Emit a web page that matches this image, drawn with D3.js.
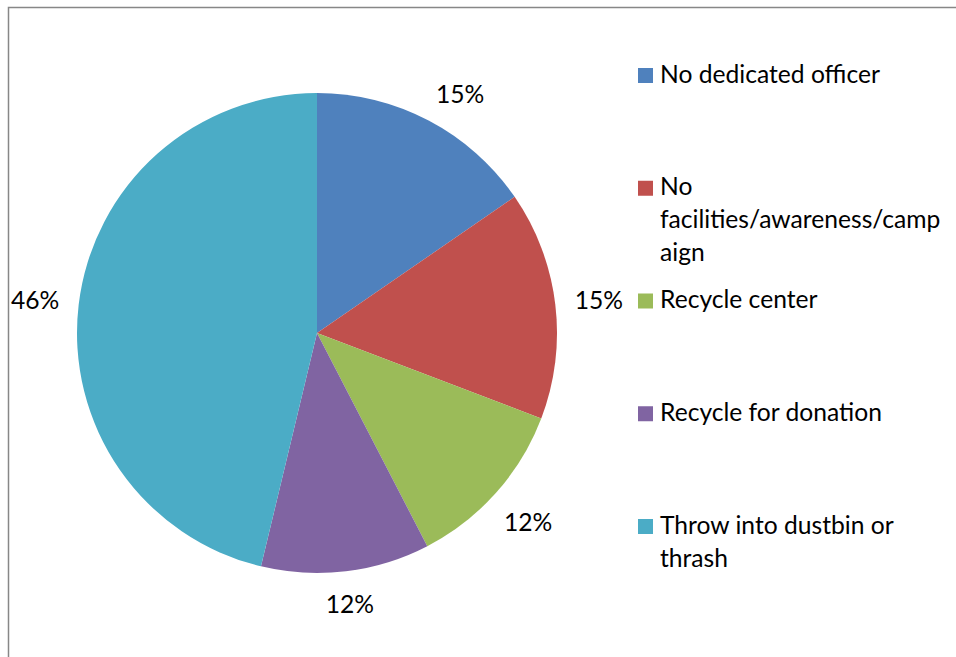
<!DOCTYPE html>
<html><head><meta charset="utf-8">
<script src="https://cdn.jsdelivr.net/npm/d3@7"></script>
<style>html,body{margin:0;padding:0;background:#fff;}svg{display:block;}</style>
</head><body>
<svg id="c" width="956" height="657"></svg>
<script>
const categories = ["No dedicated officer", "No facilities/awareness/campaign", "Recycle center", "Recycle for donation", "Throw into dustbin or thrash"];
const legendLines = [["No dedicated officer"], ["No", "facilities/awareness/camp", "aign"], ["Recycle center"], ["Recycle for donation"], ["Throw into dustbin or", "thrash"]];
const values = [15.4, 15.4, 11.6, 11.35, 46.25];
const pctLabels = ["15%", "15%", "12%", "12%", "46%"];
const colors = ["#4F81BD", "#C0504D", "#9BBB59", "#8064A2", "#4BACC6"];

const svg = d3.select("#c");
const font = "Lato, 'Open Sans', sans-serif";

// frame
svg.append("rect").attr("x", 8.5).attr("y", 7.5).attr("width", 1000).attr("height", 700)
  .attr("fill", "none").attr("stroke", "#878787").attr("stroke-width", 1.5);

// font size fit to reference width
const probe = svg.append("text").attr("font-family", font).attr("font-size", 20).text("No dedicated officer");
const w = probe.node().getComputedTextLength();
probe.remove();
const fs = 20 * 220 / w;

const cx = 317, cy = 333, r = 240;
const pie = d3.pie().sort(null).value(d => d)(values);
const arc = d3.arc().innerRadius(0).outerRadius(r);
const g = svg.append("g").attr("transform", `translate(${cx},${cy})`);
g.selectAll("path").data(pie).join("path")
  .attr("d", arc).attr("fill", (d, i) => colors[i]);

// percent labels outside-end, box-extent placement, kept below a top limit
const gap = 21, lw = 44, lh = 17, topLimit = 85;
g.selectAll("text.pct").data(pie).join("text")
  .attr("class", "pct")
  .attr("font-family", font).attr("font-size", fs).attr("fill", "#000")
  .attr("text-anchor", "middle").attr("dominant-baseline", "central")
  .attr("transform", d => {
    let a = (d.startAngle + d.endAngle) / 2;
    const ext = Math.abs(Math.sin(a)) * lw / 2 + Math.abs(Math.cos(a)) * lh / 2;
    const dist = r + gap + ext;
    let n = 0;
    while (cy - Math.cos(a) * dist - lh / 2 < topLimit && n < 200) {
      a += (a < Math.PI ? 0.005 : -0.005); n++;
    }
    return `translate(${Math.sin(a) * dist},${-Math.cos(a) * dist})`;
  })
  .text((d, i) => pctLabels[i]);

// legend
const legendY = d3.scalePoint().domain(d3.range(categories.length)).range([75, 526]);
const leg = svg.append("g");
categories.forEach((c, i) => {
  const y = legendY(i);
  leg.append("rect").attr("x", 638).attr("y", y - 7).attr("width", 15).attr("height", 15).attr("fill", colors[i]);
  const t = leg.append("text").attr("font-family", font).attr("font-size", fs).attr("fill", "#000")
    .attr("x", 660).attr("y", y + 7.5);
  legendLines[i].forEach((ln, j) => {
    t.append("tspan").attr("x", 660).attr("dy", j === 0 ? 0 : 33).text(ln);
  });
});
</script>
</body></html>
